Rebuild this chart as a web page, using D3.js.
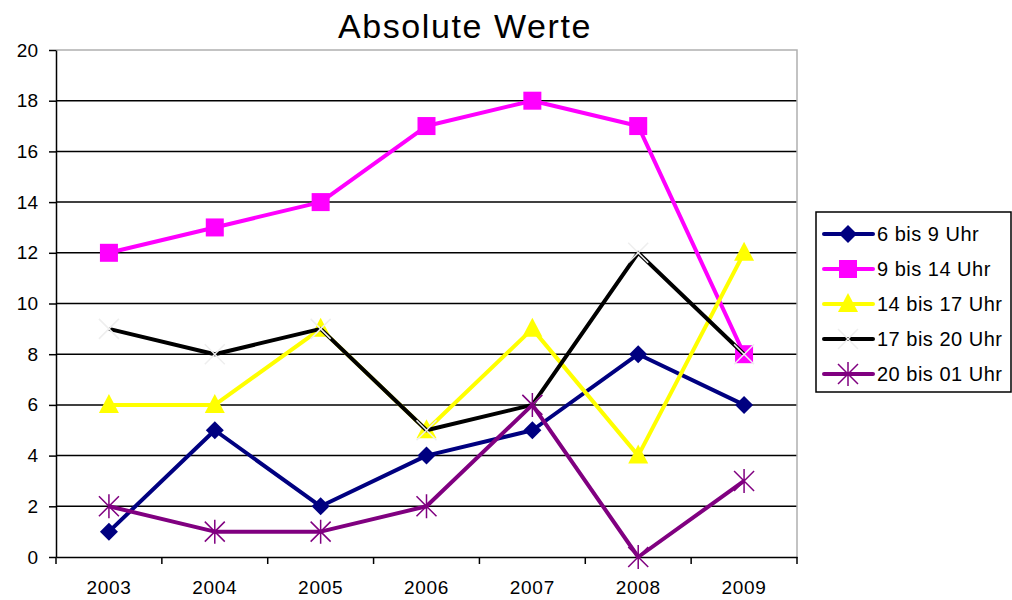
<!DOCTYPE html>
<html>
<head>
<meta charset="UTF-8">
<title>Absolute Werte</title>
<script src="https://d3js.org/d3.v7.min.js"></script>
<style>
  body { margin: 0; background: #fff; }
  svg { display: block; font-family: "Liberation Sans", Arial, sans-serif; }
</style>
</head>
<body>
<svg width="1012" height="600"></svg>
<script>
var years = ["2003", "2004", "2005", "2006", "2007", "2008", "2009"];
var seriesNames = ["6 bis 9 Uhr", "9 bis 14 Uhr", "14 bis 17 Uhr", "17 bis 20 Uhr", "20 bis 01 Uhr"];
var s6to9 = [1, 5, 2, 4, 5, 8, 6];
var s9to14 = [12, 13, 14, 17, 18, 17, 8];
var s14to17 = [6, 6, 9, 5, 9, 4, 12];
var s17to20 = [9, 8, 9, 5, 6, 12, 8];
var s20to01 = [2, 1, 1, 2, 6, 0, 3];
var yTicks = [0, 2, 4, 6, 8, 10, 12, 14, 16, 18, 20];

var colors = ["#000080", "#ff00ff", "#ffff00", "#000000", "#800080"];
var markers = ["diamond", "square", "triangle", "x", "star"];
var allValues = [s6to9, s9to14, s14to17, s17to20, s20to01];

var margin = {left: 56, right: 215, top: 50, bottom: 43};
var width = 1012, height = 600;
var svg = d3.select("svg");

var x = d3.scaleBand().domain(years).range([margin.left, width - margin.right]);
var y = d3.scaleLinear().domain([0, 20]).range([height - margin.bottom, margin.top]);

// gridlines
svg.append("g").selectAll("line")
  .data(yTicks.filter(function(d){ return d > 0 && d < 20; }))
  .enter().append("line")
  .attr("x1", margin.left).attr("x2", width - margin.right)
  .attr("y1", function(d){ return y(d); }).attr("y2", function(d){ return y(d); })
  .attr("stroke", "#000").attr("stroke-width", 1.5);

// plot border top/right (grey)
svg.append("path")
  .attr("d", "M" + margin.left + "," + y(20) + "H" + (width - margin.right) + "V" + y(0))
  .attr("fill", "none").attr("stroke", "#b0b0b0").attr("stroke-width", 1.5);

// y axis
var yAxis = d3.axisLeft(y).tickValues(yTicks).tickSize(7).tickPadding(11).tickSizeOuter(0);
var gy = svg.append("g").attr("transform", "translate(" + margin.left + ",0)").call(yAxis);
gy.select(".domain").attr("stroke-width", 1.5);
gy.selectAll("line").attr("stroke-width", 1.5);
gy.selectAll("text").attr("font-size", 19).attr("fill", "#000");

// x axis
var xAxis = d3.axisBottom(x).tickSize(0).tickPadding(24).tickSizeOuter(0);
var gx = svg.append("g").attr("transform", "translate(0," + y(0) + ")").call(xAxis);
gx.select(".domain").attr("stroke-width", 1.5);
gx.selectAll("text").attr("font-size", 19).attr("letter-spacing", 0.7).attr("fill", "#000");
var bounds = years.map(function(d){ return x(d); }).concat([x(years[6]) + x.bandwidth()]);
gx.selectAll(".bt").data(bounds).enter().append("line")
  .attr("x1", function(d){ return d; }).attr("x2", function(d){ return d; })
  .attr("y1", 0).attr("y2", 7).attr("stroke", "#000").attr("stroke-width", 1.5);

// title
svg.append("text").attr("x", 465).attr("y", 38).attr("text-anchor", "middle")
  .attr("font-size", 34).attr("letter-spacing", 1.6).text("Absolute Werte");

function drawMarker(g, type, color, cx, cy) {
  if (type === "diamond") {
    g.append("path").attr("d", "M" + cx + "," + (cy - 9) + "L" + (cx + 9) + "," + cy + "L" + cx + "," + (cy + 9) + "L" + (cx - 9) + "," + cy + "Z")
      .attr("fill", color);
  } else if (type === "square") {
    g.append("rect").attr("x", cx - 9).attr("y", cy - 9).attr("width", 18).attr("height", 18).attr("fill", color);
  } else if (type === "triangle") {
    g.append("path").attr("d", "M" + cx + "," + (cy - 11) + "L" + (cx + 10) + "," + (cy + 8) + "L" + (cx - 10) + "," + (cy + 8) + "Z")
      .attr("fill", color);
  } else if (type === "x") {
    g.append("path").attr("d", "M" + (cx - 10) + "," + (cy - 10) + "L" + (cx + 10) + "," + (cy + 10) + "M" + (cx + 10) + "," + (cy - 10) + "L" + (cx - 10) + "," + (cy + 10))
      .attr("stroke", "#eeeeee").attr("stroke-width", 1.5);
  } else if (type === "star") {
    g.append("path").attr("d", "M" + (cx - 10) + "," + (cy - 10) + "L" + (cx + 10) + "," + (cy + 10) + "M" + (cx + 10) + "," + (cy - 10) + "L" + (cx - 10) + "," + (cy + 10) + "M" + cx + "," + (cy - 12) + "V" + (cy + 12))
      .attr("stroke", color).attr("stroke-width", 1.5);
  }
}

var line = d3.line()
  .x(function(d, i){ return x(years[i]) + x.bandwidth() / 2; })
  .y(function(d){ return y(d); });

allValues.forEach(function(vals, k) {
  var g = svg.append("g");
  g.append("path").datum(vals).attr("d", line)
    .attr("fill", "none").attr("stroke", colors[k]).attr("stroke-width", 4).attr("stroke-linejoin", "round");
  vals.forEach(function(v, i) {
    drawMarker(g, markers[k], colors[k], x(years[i]) + x.bandwidth() / 2, y(v));
  });
});

// legend
var legend = svg.append("g").attr("transform", "translate(816,212)");
legend.append("rect").attr("x", 0).attr("y", 0).attr("width", 195).attr("height", 180)
  .attr("fill", "#fff").attr("stroke", "#000").attr("stroke-width", 1.5);
seriesNames.forEach(function(name, k) {
  var ly = 22 + k * 35;
  var lg = legend.append("g");
  lg.append("line").attr("x1", 8).attr("x2", 57).attr("y1", ly).attr("y2", ly)
    .attr("stroke", colors[k]).attr("stroke-width", 4).attr("stroke-linecap", "round");
  drawMarker(lg, markers[k], colors[k], 32, ly);
  lg.append("text").attr("x", 61).attr("y", ly + 7).attr("font-size", 20).attr("letter-spacing", 0.5).text(name);
});
</script>
</body>
</html>
